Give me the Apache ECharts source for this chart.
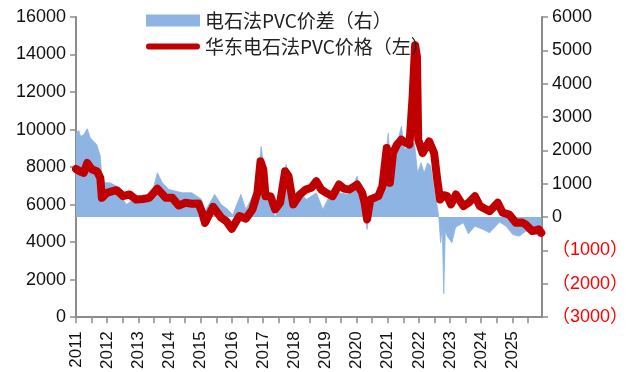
<!DOCTYPE html>
<html><head><meta charset="utf-8">
<script src="https://cdn.jsdelivr.net/npm/echarts@6/dist/echarts.min.js"></script>
<style>html,body{margin:0;padding:0;background:#fff}#c{width:631px;height:372px}</style>
</head><body><div id="c"></div>
<script>
var yearLabels = [2011,2012,2013,2014,2015,2016,2017,2018,2019,2020,2021,2022,2023,2024,2025];
var leftTicks = [0,2000,4000,6000,8000,10000,12000,14000,16000];
var rightTicks = [-3000,-2000,-1000,0,1000,2000,3000,4000,5000,6000];

var priceDates = [2011.0,2011.04,2011.15,2011.25,2011.36,2011.45,2011.52,2011.67,2011.78,2011.83,2011.99,2012.15,2012.30,2012.42,2012.51,2012.72,2012.93,2013.15,2013.35,2013.61,2013.75,2013.88,2014.09,2014.30,2014.51,2014.72,2014.93,2015.05,2015.14,2015.28,2015.40,2015.66,2015.82,2016.00,2016.24,2016.45,2016.66,2016.82,2016.92,2017.01,2017.08,2017.24,2017.39,2017.55,2017.71,2017.82,2017.97,2018.18,2018.37,2018.55,2018.71,2018.87,2019.02,2019.23,2019.44,2019.60,2019.76,2020.02,2020.18,2020.26,2020.34,2020.44,2020.70,2020.83,2020.97,2021.07,2021.17,2021.30,2021.44,2021.58,2021.70,2021.80,2021.88,2021.94,2021.98,2022.12,2022.33,2022.49,2022.59,2022.68,2022.80,2022.91,2023.03,2023.19,2023.43,2023.60,2023.80,2023.96,2024.27,2024.53,2024.69,2024.90,2025.11,2025.30,2025.43,2025.64,2025.85,2025.93];
var priceValues = [7900,7950,7750,7690,8220,8000,7870,7780,7430,6360,6630,6700,6770,6600,6450,6540,6270,6300,6360,6850,6600,6360,6360,5950,6100,6050,6060,5570,5030,5500,5880,5300,5120,4710,5390,5250,5740,6630,8310,7870,6450,6450,5740,6100,7780,7510,6010,6540,6800,6900,7250,6800,6630,6450,7070,6850,6800,7070,6630,6100,5210,6270,6450,6980,9020,7160,8750,9200,9460,9300,9200,11760,14500,13890,9460,8750,9370,8750,7340,6270,6500,6450,6010,6540,5920,6100,6450,5920,5650,6100,5570,5470,5030,5050,4940,4590,4680,4500];

var spreadDates = [2011.0,2011.09,2011.15,2011.25,2011.36,2011.46,2011.57,2011.67,2011.78,2011.83,2011.94,2012.09,2012.30,2012.51,2012.62,2012.83,2013.14,2013.46,2013.61,2013.77,2013.98,2014.19,2014.40,2014.72,2015.03,2015.14,2015.45,2015.66,2015.87,2016.03,2016.18,2016.29,2016.45,2016.61,2016.82,2016.94,2017.03,2017.11,2017.24,2017.39,2017.55,2017.74,2017.87,2017.99,2018.18,2018.39,2018.71,2018.92,2019.13,2019.44,2019.76,2020.02,2020.18,2020.34,2020.44,2020.70,2020.81,2021.02,2021.07,2021.17,2021.33,2021.44,2021.54,2021.65,2021.86,2021.96,2022.07,2022.17,2022.28,2022.38,2022.49,2022.59,2022.64,2022.70,2022.75,2022.80,2022.85,2022.91,2023.06,2023.18,2023.43,2023.59,2023.80,2024.06,2024.27,2024.59,2024.80,2025.01,2025.22,2025.43,2025.64,2025.85,2025.93];
var spreadValues = [2500,2600,2420,2470,2650,2370,2270,2170,1820,1180,1030,1030,930,530,380,530,530,780,1330,1030,830,780,730,730,530,180,680,380,230,60,430,680,230,530,930,2120,1520,530,330,0,330,1580,1130,330,780,530,730,230,630,730,680,1230,530,-370,380,630,830,2520,1650,1820,2320,2720,2020,2120,2220,1330,1630,1330,1630,1530,830,330,0,-770,-300,-2300,-400,-570,-770,-300,-170,-500,-270,-370,-470,-150,-270,-520,-570,-420,-470,-570,-400];

function pairs(xs, ys){ return xs.map(function(x,i){ return [x, ys[i]]; }); }
var halfTicks = [];
yearLabels.forEach(function(y){ halfTicks.push(y); halfTicks.push(y+0.5); });

var axisGray = '#8c8c8c';
var chart = echarts.init(document.getElementById('c'), null, {renderer:'canvas'});
chart.setOption({
  animation:false,
  backgroundColor:'#fff',
  grid:{left:76,right:79,top:17,bottom:53,containLabel:false},
  legend:{
    orient:'vertical', left:141, top:6, itemWidth:54, itemHeight:12, itemGap:7,
    textStyle:{fontFamily:'Noto Sans CJK SC', fontSize:19, color:'#222', padding:[0,0,0,0]},
    data:[
      {name:'电石法PVC价差（右）', icon:'rect'},
      {name:'华东电石法PVC价格（左）', icon:'path://M3,0 L53,0 A3,3 0 0 1 53,6 L3,6 A3,3 0 0 1 3,0 Z'}
    ]
  },
  xAxis:{
    type:'value', min:2011, max:2025.95,
    axisLine:{lineStyle:{color:axisGray,width:2}},
    axisTick:{show:true, customValues:halfTicks, length:6, lineStyle:{color:axisGray,width:1.5}},
    axisLabel:{customValues:yearLabels, rotate:90, margin:14, fontFamily:'Liberation Sans', fontSize:17, color:'#111',
      formatter:function(v){return String(Math.round(v));}},
    splitLine:{show:false}
  },
  yAxis:[
    {type:'value', min:0, max:16000, interval:2000, position:'left',
     axisLine:{show:true,lineStyle:{color:axisGray,width:2}},
     axisTick:{show:true,length:6,lineStyle:{color:axisGray,width:1.5}},
     axisLabel:{fontFamily:'Liberation Sans', fontSize:18, color:'#111', margin:10,
       formatter:function(v){ return String(v); }},
     splitLine:{show:false}},
    {type:'value', min:-3000, max:6000, interval:1000, position:'right',
     axisLine:{show:true,lineStyle:{color:axisGray,width:2}},
     axisTick:{show:true,length:6,lineStyle:{color:axisGray,width:1.5}},
     axisLabel:{fontFamily:'Liberation Sans', fontSize:18, color:'#111', margin:10,
       formatter:function(v){ return v<0 ? '{neg|（'+Math.abs(v)+'）}' : String(v); },
       rich:{neg:{color:'#ff0000', fontSize:18, fontFamily:'Liberation Sans, Noto Sans CJK SC'}}},
     splitLine:{show:false}}
  ],
  series:[
    {name:'电石法PVC价差（右）', type:'line', yAxisIndex:1, data:pairs(spreadDates, spreadValues),
     showSymbol:false, symbol:'none', lineStyle:{width:0.8,color:'#8db4e2'}, itemStyle:{color:'#8db4e2'},
     areaStyle:{color:'#8db4e2', opacity:1, origin:0}, z:2},
    {name:'华东电石法PVC价格（左）', type:'line', yAxisIndex:0, data:pairs(priceDates, priceValues),
     showSymbol:false, symbol:'none', lineStyle:{width:8,color:'#c00000',cap:'round',join:'round'}, itemStyle:{color:'#c00000'}, z:3}
  ]
});
</script></body></html>
